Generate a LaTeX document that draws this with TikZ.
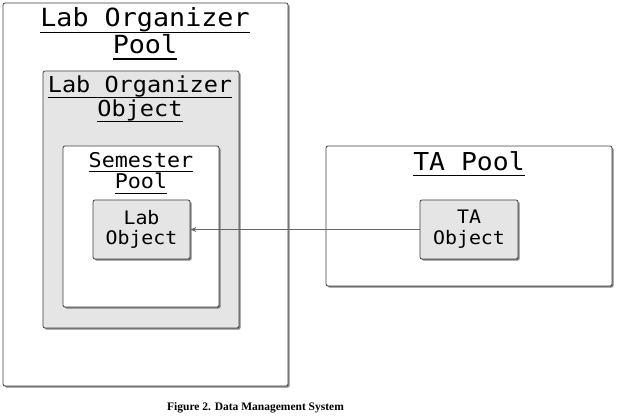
\documentclass[tikz,border=0pt]{standalone}
\usepackage{fontspec}
\usetikzlibrary{shadows,positioning,arrows.meta}
\newfontfamily\monofont[FakeStretch=1.07]{DejaVu Sans Mono}
\newfontfamily\capfont{Liberation Serif}
\newcommand{\mfont}[2]{\monofont\fontsize{#1}{#2}\selectfont}
\newcommand{\ulin}[1]{\leavevmode\setbox0\hbox{#1}\rlap{\smash{\rule[-0.25em]{\wd0}{1.2pt}}}\box0}

\begin{document}
\begin{tikzpicture}[
    x=1pt, y=-1pt,
    pool/.style={rectangle, draw=black!75, line width=0.8pt, rounded corners=2pt, fill=white,
        drop shadow={shadow xshift=1.6pt, shadow yshift=-1.6pt, fill=black!60, opacity=0.8}},
    obj/.style={pool, fill=black!10},
    title/.style={inner sep=0pt, anchor=north, align=center},
    arrow/.style={->, >={Stealth[length=6pt,width=5pt]}, draw=black!60, fill=black!60, line width=0.8pt}
]
\useasboundingbox (0,0) rectangle (622,417);

% Lab organizer side (nested pools)
\node[pool, minimum width=285pt, minimum height=383pt] (orgpool) at (145.5,194.5) {};
\node[title, font=\mfont{25}{26.7}] (orgtitle) at (145,7.5) {\ulin{Lab Organizer}\\\ulin{Pool}};

\node[obj, minimum width=196pt, minimum height=257pt] (orgobj) at (141,199.5) {};
\node[title, font=\mfont{22}{24}] (orgobjtitle) at (140,76) {\ulin{Lab Organizer}\\\ulin{Object}};

\node[pool, minimum width=156pt, minimum height=161pt] (sempool) at (141,226.5) {};
\node[title, font=\mfont{20.3}{21.7}] (semtitle) at (141,152) {\ulin{Semester}\\\ulin{Pool}};

\node[obj, minimum width=97pt, minimum height=59pt, align=center, font=\mfont{18.6}{20.7}] (labobj) at (141.5,229.5) {Lab\\Object};

% TA side
\node[pool, minimum width=286pt, minimum height=140pt] (tapool) at (469,216) {};
\node[title, font=\mfont{24.7}{26}] (tatitle) at (469,151) {\ulin{TA Pool}};

\node[obj, minimum width=98pt, minimum height=59pt, align=center, font=\mfont{18.6}{20.7}] (taobj) at (469,229.5) {TA\\Object};

\draw[arrow] (taobj) -- (labobj);

% caption
\node[font=\capfont\bfseries\fontsize{11.5}{13}\selectfont] (caption) at (255.5,408) {Figure 2. Data Management System};

\end{tikzpicture}
\end{document}
